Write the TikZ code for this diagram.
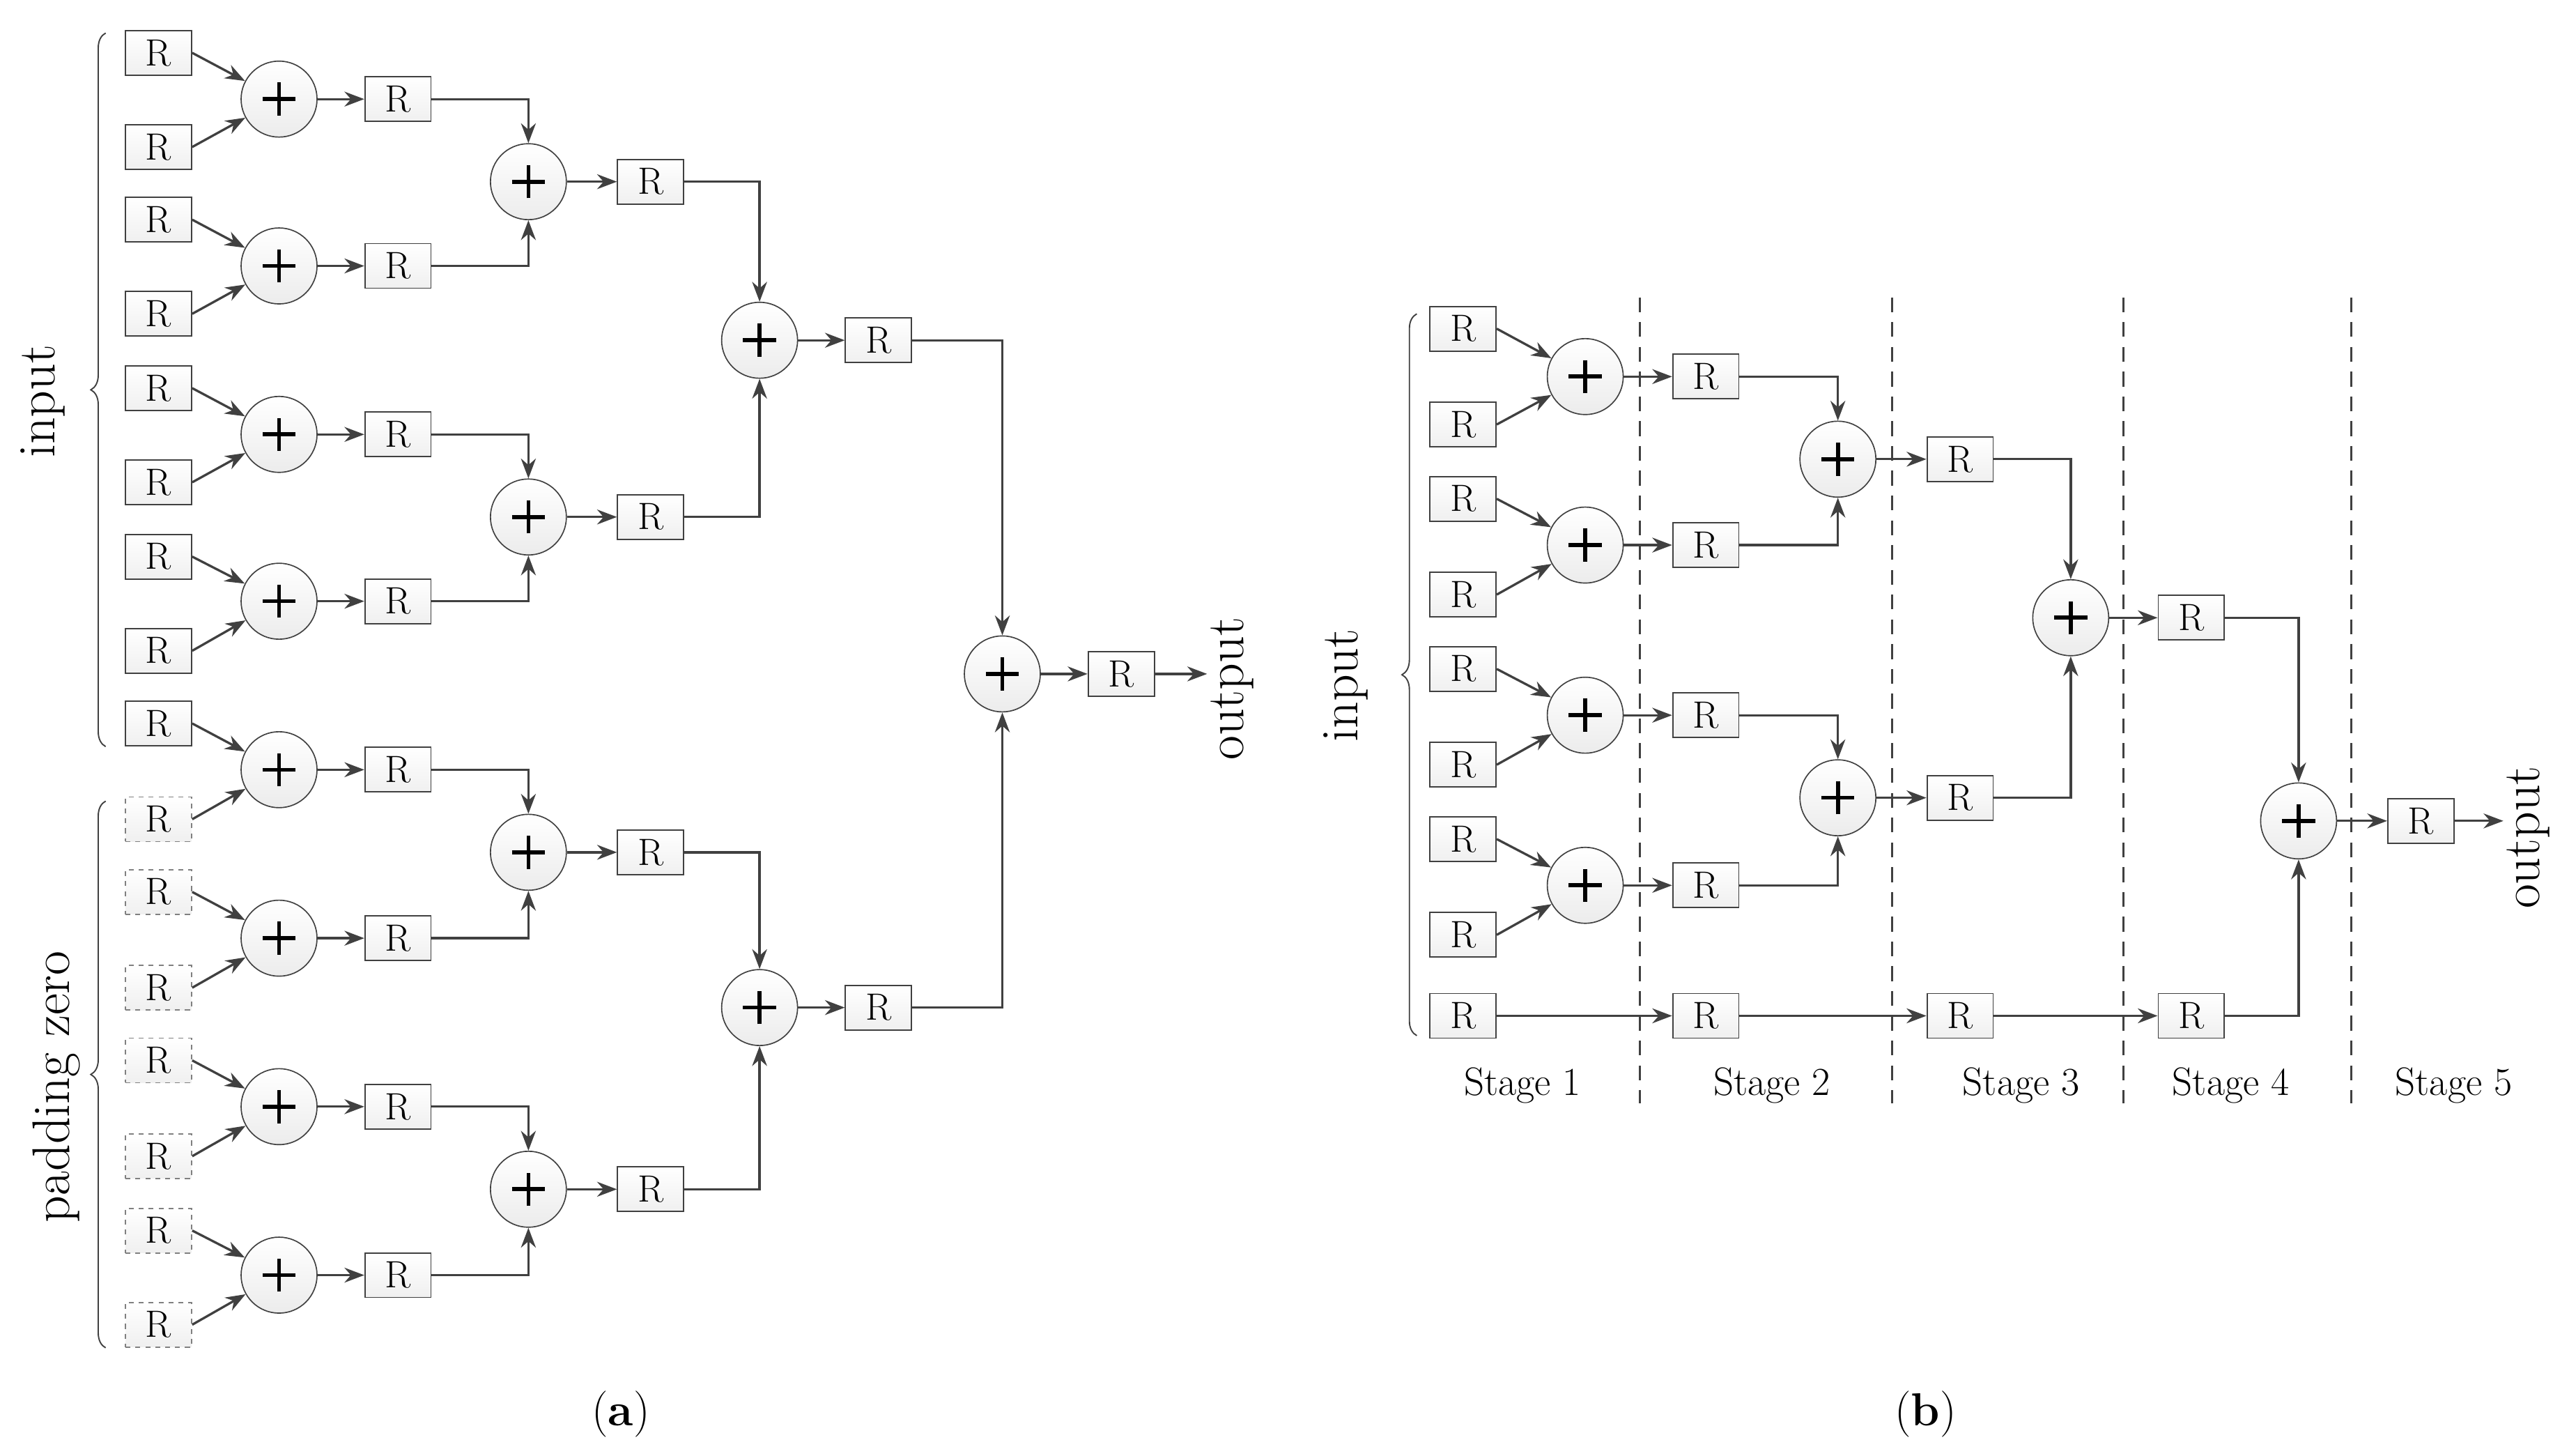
\documentclass[tikz,border=0pt]{standalone}
\usetikzlibrary{arrows.meta,decorations.pathreplacing}
\definecolor{dg}{HTML}{404040}
\begin{document}
\begin{tikzpicture}[x=1pt,y=-1pt,
  R/.style={draw=dg,line width=0.8pt,top color=white,bottom color=gray!12,minimum width=40pt,minimum height=27pt,inner sep=0pt,font=\fontsize{23}{23}\selectfont},
  Rd/.style={R,draw=gray,dashed},
  add/.style={circle,draw=dg,line width=0.7pt,top color=white,bottom color=gray!15,minimum size=46pt,inner sep=0pt,
    path picture={\draw[line width=2.4pt,black] ([xshift=-10pt]path picture bounding box.center) -- ([xshift=10pt]path picture bounding box.center);
      \draw[line width=2.4pt,black] ([yshift=-10pt]path picture bounding box.center) -- ([yshift=10pt]path picture bounding box.center);}},
  arr/.style={draw=dg,line width=1.4pt,-{Stealth[length=12pt,width=9pt]}},
  brc/.style={draw=dg,line width=0.8pt,decorate,decoration={brace,amplitude=9pt,mirror}},
  lab/.style={font=\fontsize{32}{32}\selectfont,rotate=90,inner sep=2pt},
  stg/.style={font=\fontsize{24}{24}\selectfont},
  dsh/.style={draw=dg,line width=1.2pt,dash pattern=on 9pt off 6pt}]
\useasboundingbox (0,0) rectangle (1560,877);
% ---------- panel (a)
\foreach \y [count=\i] in {32,89,133,190,235,292,337,394,438} \node[R] (ai\i) at (96,\y) {R};
\foreach \y [count=\i from 10] in {496,540,598,642,700,745,802} \node[Rd] (ai\i) at (96,\y) {R};
\foreach \y [count=\i] in {60,161,263,364,466,568,670,772} {
  \node[add] (a1\i) at (169,\y) {};
  \node[R] (ar1\i) at (241,\y) {R};
  \draw[arr] (a1\i) -- (ar1\i);
  \pgfmathtruncatemacro\p{2*\i-1}\pgfmathtruncatemacro\q{2*\i}
  \draw[arr] (ai\p.east) -- (a1\i);
  \draw[arr] (ai\q.east) -- (a1\i);
}
\foreach \y [count=\i] in {110,313,516,720} {
  \node[add] (a2\i) at (320,\y) {};
  \node[R] (ar2\i) at (394,\y) {R};
  \draw[arr] (a2\i) -- (ar2\i);
  \pgfmathtruncatemacro\p{2*\i-1}\pgfmathtruncatemacro\q{2*\i}
  \draw[arr] (ar1\p.east) -| (a2\i.north);
  \draw[arr] (ar1\q.east) -| (a2\i.south);
}
\foreach \y [count=\i] in {206,610} {
  \node[add] (a3\i) at (460,\y) {};
  \node[R] (ar3\i) at (532,\y) {R};
  \draw[arr] (a3\i) -- (ar3\i);
  \pgfmathtruncatemacro\p{2*\i-1}\pgfmathtruncatemacro\q{2*\i}
  \draw[arr] (ar2\p.east) -| (a3\i.north);
  \draw[arr] (ar2\q.east) -| (a3\i.south);
}
\node[add] (a4) at (607,408) {};
\node[R] (ar4) at (679,408) {R};
\draw[arr] (ar31.east) -| (a4.north);
\draw[arr] (ar32.east) -| (a4.south);
\draw[arr] (a4) -- (ar4);
\node[lab,anchor=north] (aout) at (731,417) {output};
\draw[arr] (ar4.east) -- (ar4.east -| aout.north);
\draw[brc] (64,20) -- (64,452);
\node[lab] (ainl) at (26,243) {input};
\draw[brc] (64,485) -- (64,816);
\node[lab] (apl) at (34,658) {padding zero};
\node[font=\fontsize{28}{28}\selectfont] (capa) at (376,856) {(\textbf{a})};
% ---------- panel (b)
\foreach \x [count=\i] in {993,1146,1286,1424} \draw[dsh] (\x,180) coordinate (dt\i) -- (\x,668) coordinate (db\i);
\foreach \y [count=\i] in {199,257,302,360,405,463,508,566,615} \node[R] (bi\i) at (886,\y) {R};
\foreach \y [count=\i] in {228,330,433,536} {
  \node[add] (b1\i) at (960,\y) {};
  \node[R] (br1\i) at (1033,\y) {R};
  \draw[arr] (b1\i) -- (br1\i);
  \pgfmathtruncatemacro\p{2*\i-1}\pgfmathtruncatemacro\q{2*\i}
  \draw[arr] (bi\p.east) -- (b1\i);
  \draw[arr] (bi\q.east) -- (b1\i);
}
\node[R] (br15) at (1033,615) {R};
\foreach \y [count=\i] in {278,483} {
  \node[add] (b2\i) at (1113,\y) {};
  \node[R] (br2\i) at (1187,\y) {R};
  \draw[arr] (b2\i) -- (br2\i);
  \pgfmathtruncatemacro\p{2*\i-1}\pgfmathtruncatemacro\q{2*\i}
  \draw[arr] (br1\p.east) -| (b2\i.north);
  \draw[arr] (br1\q.east) -| (b2\i.south);
}
\node[R] (br23) at (1187,615) {R};
\node[add] (b3) at (1254,374) {};
\node[R] (br3) at (1327,374) {R};
\draw[arr] (br21.east) -| (b3.north);
\draw[arr] (br22.east) -| (b3.south);
\draw[arr] (b3) -- (br3);
\node[R] (br33) at (1327,615) {R};
\draw[arr] (bi9) -- (br15);
\draw[arr] (br15) -- (br23);
\draw[arr] (br23) -- (br33);
\node[add] (b4) at (1392,497) {};
\node[R] (br4) at (1466,497) {R};
\draw[arr] (br3.east) -| (b4.north);
\draw[arr] (br33.east) -| (b4.south);
\draw[arr] (b4) -- (br4);
\node[lab,anchor=north] (bout) at (1516,507) {output};
\draw[arr] (br4.east) -- (br4.east -| bout.north);
\draw[brc] (858,190) -- (858,627);
\node[lab] (binl) at (815,415) {input};
\foreach \x/\t [count=\i] in {922/Stage 1,1073/Stage 2,1224/Stage 3,1351/Stage 4,1486/Stage 5} \node[stg] (st\i) at (\x,657) {\t};
\node[font=\fontsize{28}{28}\selectfont] (capb) at (1166,856) {(\textbf{b})};
\end{tikzpicture}
\end{document}
